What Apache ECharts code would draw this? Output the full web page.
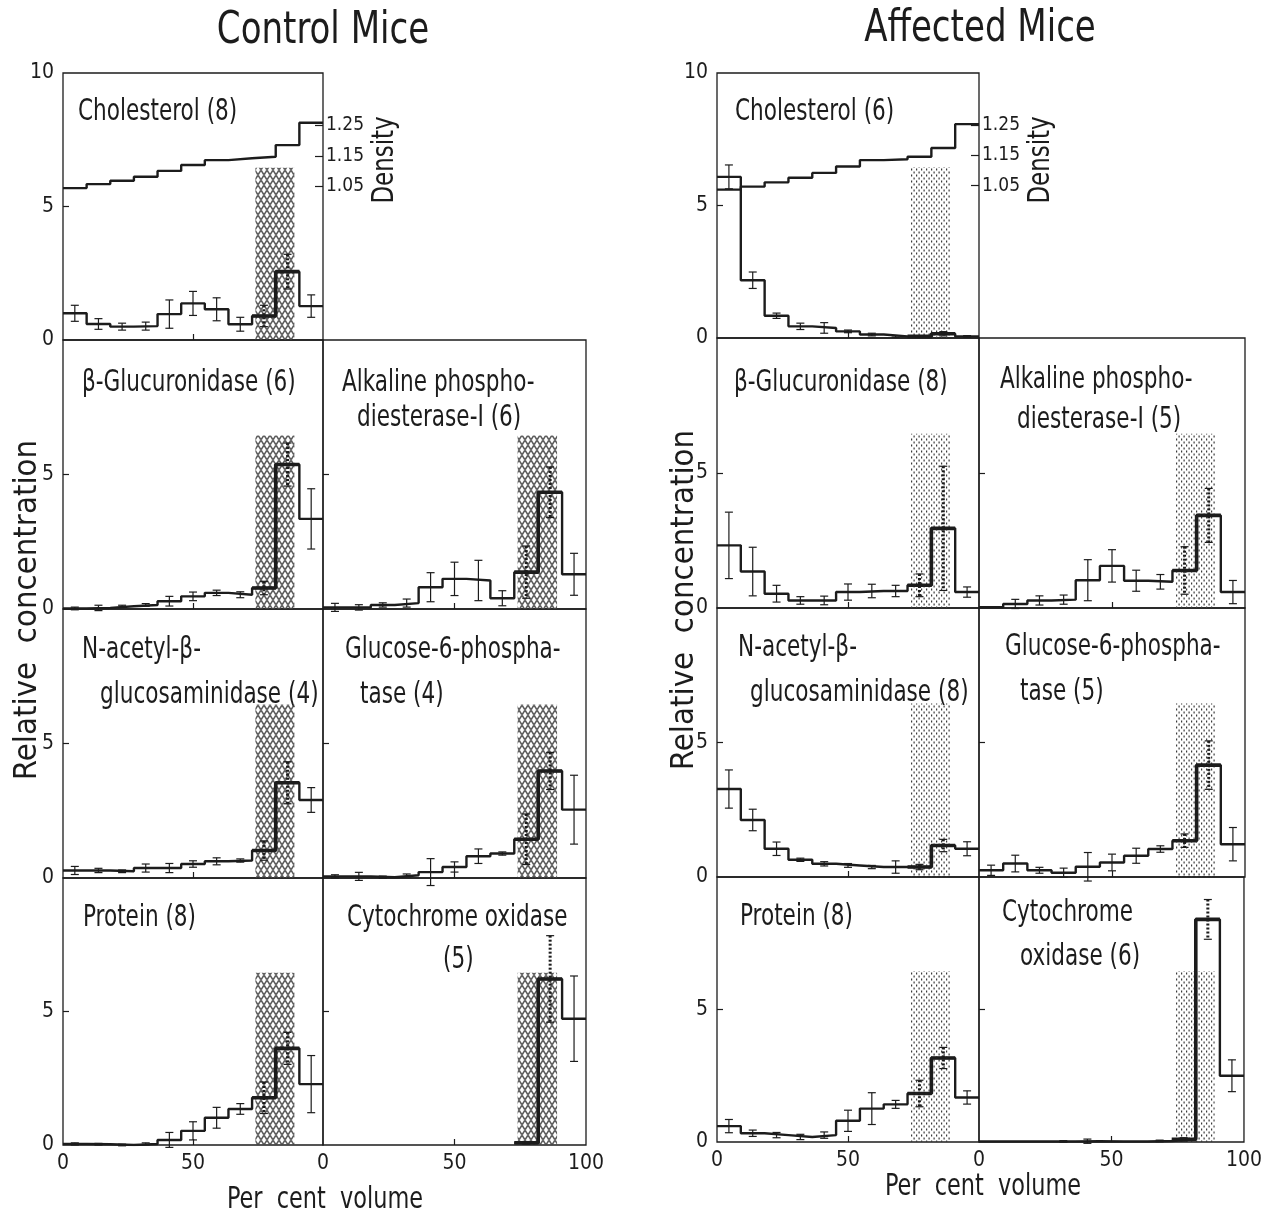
<!DOCTYPE html>
<html>
<head>
<meta charset="utf-8">
<script src="https://cdn.jsdelivr.net/npm/echarts@6/dist/echarts.min.js"></script>
<style>
html, body {margin:0; padding:0; background:#fff;}
#chart {width:1265px; height:1216px;}
</style>
</head>
<body>
<div id="chart"></div>
<script>
// 11 fracoes de volume igual, faixa sombreada = regiao das particulas
var nBins = 11;
var bandX = [74, 89];
var bandTop = 6.45;
var concTicks = [0, 5, 10];
var volumeTicks = [0, 50, 100];
var densityTicks = [1.05, 1.15, 1.25];

// CONTROL
var ctrlChol    = [1.0, 0.6, 0.5, 0.52, 0.97, 1.37, 1.15, 0.59, 0.9, 2.56, 1.27];
var ctrlCholErr = [0.3, 0.2, 0.13, 0.15, 0.53, 0.45, 0.43, 0.26, 0.4, 0.65, 0.42];
var ctrlDensity = [1.045, 1.058, 1.069, 1.082, 1.101, 1.120, 1.136, 1.142, 1.147, 1.185, 1.258];
var ctrlGluc    = [0.02, 0.04, 0.1, 0.15, 0.29, 0.47, 0.6, 0.53, 0.78, 5.37, 3.35];
var ctrlGlucErr = [0.05, 0.1, 0.04, 0.05, 0.18, 0.16, 0.1, 0.11, 0.25, 0.8, 1.12];
var ctrlAlk     = [0.06, 0.06, 0.15, 0.22, 0.81, 1.12, 1.06, 0.4, 1.37, 4.34, 1.29];
var ctrlAlkErr  = [0.15, 0.1, 0.08, 0.15, 0.54, 0.62, 0.75, 0.28, 0.97, 0.94, 0.78];
var ctrlNac     = [0.28, 0.28, 0.25, 0.37, 0.37, 0.52, 0.62, 0.65, 1.02, 3.54, 2.9];
var ctrlNacErr  = [0.15, 0.08, 0.05, 0.15, 0.17, 0.12, 0.13, 0.06, 0.36, 0.78, 0.46];
var ctrlG6p     = [0.06, 0.06, 0.03, 0.1, 0.22, 0.41, 0.81, 0.91, 1.44, 3.98, 2.54];
var ctrlG6pErr  = [0.06, 0.15, 0.04, 0.05, 0.5, 0.19, 0.27, 0.06, 0.94, 0.69, 1.28];
var ctrlProt    = [0.04, 0.03, 0.0, 0.04, 0.19, 0.53, 1.02, 1.35, 1.77, 3.62, 2.28];
var ctrlProtErr = [0.04, 0.03, 0.03, 0.04, 0.28, 0.34, 0.39, 0.2, 0.59, 0.6, 1.07];
var ctrlCyt     = [null, null, null, null, null, null, null, null, 0.08, 6.22, 4.73];
var ctrlCytErr  = [null, null, null, null, null, null, null, null, 0.05, 1.62, 1.6];

// AFFECTED
var affChol    = [6.08, 2.18, 0.84, 0.44, 0.38, 0.25, 0.13, 0.06, 0.06, 0.16, 0.06];
var affCholErr = [0.45, 0.31, 0.1, 0.12, 0.2, 0.05, 0.05, 0.03, 0.03, 0.08, 0.03];
var affDensity = [1.037, 1.047, 1.061, 1.076, 1.092, 1.113, 1.134, 1.137, 1.145, 1.174, 1.252];
var affGluc    = [2.32, 1.35, 0.53, 0.28, 0.28, 0.59, 0.63, 0.63, 0.84, 2.95, 0.59];
var affGlucErr = [1.23, 0.9, 0.31, 0.14, 0.16, 0.3, 0.25, 0.21, 0.42, 2.3, 0.19];
var affAlk     = [0.03, 0.15, 0.28, 0.31, 1.03, 1.56, 1.01, 0.97, 1.39, 3.43, 0.59];
var affAlkErr  = [null, 0.17, 0.17, 0.17, 0.76, 0.6, 0.39, 0.27, 0.88, 1.0, 0.43];
var affNac     = [3.27, 2.12, 1.05, 0.64, 0.49, 0.43, 0.37, 0.37, 0.37, 1.17, 1.05];
var affNacErr  = [0.71, 0.4, 0.25, 0.06, 0.08, 0.07, 0.06, 0.23, 0.1, 0.23, 0.26];
var affG6p     = [0.25, 0.5, 0.25, 0.16, 0.38, 0.54, 0.79, 1.04, 1.35, 4.16, 1.22];
var affG6pErr  = [0.19, 0.31, 0.11, 0.17, 0.53, 0.31, 0.28, 0.12, 0.25, 0.9, 0.62];
var affProt    = [0.6, 0.33, 0.26, 0.19, 0.26, 0.8, 1.26, 1.42, 1.83, 3.17, 1.68];
var affProtErr = [0.25, 0.12, 0.1, 0.1, 0.12, 0.4, 0.6, 0.15, 0.5, 0.4, 0.25];
var affCyt     = [0.02, 0.02, 0.02, 0.02, 0.03, 0.02, 0.02, 0.04, 0.1, 8.4, 2.5];
var affCytErr  = [null, null, null, 0.03, 0.08, null, null, 0.03, 0.06, 0.75, 0.6];

var fontFam = "'Liberation Sans Narrow', 'DejaVu Sans Condensed', sans-serif";
var ink = '#1c1c1c';

// posicoes dos paineis (px)
var layout = {
    c: {cols: [63, 323, 586], rows: [73, 340, 609, 878, 1145]},
    a: {cols: [717, 979, 1245], rows: [73, 338, 608, 877, 1142]}
};

var panels = [
    {g:'c', row:0, col:0, text:['Cholesterol (8)'], pos:[[78,112]], v:ctrlChol, e:ctrlCholErr, d:ctrlDensity},
    {g:'c', row:1, col:0, text:['β-Glucuronidase (6)'], pos:[[82,383]], v:ctrlGluc, e:ctrlGlucErr},
    {g:'c', row:1, col:1, text:['Alkaline phospho-','diesterase-I (6)'], pos:[[342,383],[357,418]], v:ctrlAlk, e:ctrlAlkErr},
    {g:'c', row:2, col:0, text:['N-acetyl-β-','glucosaminidase (4)'], pos:[[82,650],[100,695]], v:ctrlNac, e:ctrlNacErr},
    {g:'c', row:2, col:1, text:['Glucose-6-phospha-','tase (4)'], pos:[[345,650],[360,695]], v:ctrlG6p, e:ctrlG6pErr},
    {g:'c', row:3, col:0, text:['Protein (8)'], pos:[[83,918]], v:ctrlProt, e:ctrlProtErr},
    {g:'c', row:3, col:1, text:['Cytochrome oxidase','(5)'], pos:[[347,918],[443,960]], v:ctrlCyt, e:ctrlCytErr},
    {g:'a', row:0, col:0, text:['Cholesterol (6)'], pos:[[735,112]], v:affChol, e:affCholErr, d:affDensity},
    {g:'a', row:1, col:0, text:['β-Glucuronidase (8)'], pos:[[734,383]], v:affGluc, e:affGlucErr},
    {g:'a', row:1, col:1, text:['Alkaline phospho-','diesterase-I (5)'], pos:[[1000,380],[1017,420]], v:affAlk, e:affAlkErr},
    {g:'a', row:2, col:0, text:['N-acetyl-β-','glucosaminidase (8)'], pos:[[738,648],[750,693]], v:affNac, e:affNacErr},
    {g:'a', row:2, col:1, text:['Glucose-6-phospha-','tase (5)'], pos:[[1005,647],[1020,692]], v:affG6p, e:affG6pErr},
    {g:'a', row:3, col:0, text:['Protein (8)'], pos:[[740,917]], v:affProt, e:affProtErr},
    {g:'a', row:3, col:1, text:['Cytochrome','oxidase (6)'], pos:[[1002,913],[1020,957]], v:affCyt, e:affCytErr}
];

// texturas da faixa
function meshPattern() {
    var c = document.createElement('canvas');
    c.width = 6; c.height = 10;
    var g = c.getContext('2d');
    g.strokeStyle = '#444';
    g.lineWidth = 0.9;
    [[3,5],[0,0],[6,0],[0,10],[6,10]].forEach(function(p){
        g.beginPath();
        g.ellipse(p[0], p[1], 2.4, 4.0, 0, 0, Math.PI * 2);
        g.stroke();
    });
    return c;
}
function dotPattern() {
    var c = document.createElement('canvas');
    c.width = 5; c.height = 6;
    var g = c.getContext('2d');
    g.fillStyle = '#3a3a3a';
    g.fillRect(1, 0.5, 1.2, 2);
    g.fillRect(3.5, 3.5, 1.2, 2);
    return c;
}
var patterns = {c: meshPattern(), a: dotPattern()};

function edge(i) { return i * 100 / nBins; }
function center(i) { return (i + 0.5) * 100 / nBins; }
function inBand(i) { return center(i) >= bandX[0] && center(i) <= bandX[1]; }

function stepData(vals) {
    var pts = [];
    for (var i = 0; i < nBins; i++) pts.push([edge(i), vals[i] == null ? '-' : vals[i]]);
    pts.push([100, vals[nBins - 1]]);
    return pts;
}
function bandStep(vals) {
    var pts = [], last = -1;
    for (var i = 0; i < nBins; i++) {
        if (inBand(i) && vals[i] != null) { pts.push([edge(i), vals[i]]); last = i; }
    }
    if (last >= 0) pts.push([edge(last + 1), vals[last]]);
    return pts;
}
function errData(vals, errs) {
    var out = [];
    for (var i = 0; i < nBins; i++) {
        if (vals[i] == null || errs[i] == null) continue;
        out.push([center(i), vals[i], errs[i], inBand(i) ? 1 : 0]);
    }
    return out;
}

function errRender(params, api) {
    var x = api.value(0), v = api.value(1), e = api.value(2), dotted = api.value(3);
    var hi = api.coord([x, v + e]);
    var lo = api.coord([x, v - e]);
    var cap = 4;
    var thin = {stroke: ink, lineWidth: 1.2};
    return {
        type: 'group',
        children: [
            {type:'line', shape:{x1:hi[0], y1:hi[1], x2:lo[0], y2:lo[1]},
             style: dotted ? {stroke: ink, lineWidth: 3, lineDash: [2, 2]} : thin},
            {type:'line', shape:{x1:hi[0]-cap, y1:hi[1], x2:hi[0]+cap, y2:hi[1]}, style: thin},
            {type:'line', shape:{x1:lo[0]-cap, y1:lo[1], x2:lo[0]+cap, y2:lo[1]}, style: thin}
        ]
    };
}

// texto com largura comprimida (fonte condensada)
function label(t, x, y, size, sx, align, rot) {
    return {type: 'text', x: x, y: y, rotation: rot || 0, scaleX: sx,
        style: {text: t, font: size + 'px ' + fontFam, fill: ink, textAlign: align, textVerticalAlign: 'middle'}};
}

var grids = [], xAxes = [], yAxes = [], series = [], graphics = [];

panels.forEach(function(p, k){
    var L = layout[p.g];
    var left = L.cols[p.col], right = L.cols[p.col + 1];
    var top = L.rows[p.row], bottom = L.rows[p.row + 1];
    var isBottom = p.row === 3;

    grids.push({left: left, top: top, width: right - left, height: bottom - top,
        show: true, borderColor: ink, borderWidth: 1.3, backgroundColor: 'transparent'});

    xAxes.push({
        type: 'value', gridIndex: k, min: 0, max: 100,
        axisLine: {show: false}, splitLine: {show: false},
        axisTick: {customValues: [volumeTicks[1]], inside: true, length: 6, lineStyle: {color: ink, width: 1.2}},
        axisLabel: {show: isBottom, customValues: p.col === 0 ? volumeTicks.slice(0, 2) : volumeTicks,
            margin: 8, color: ink, fontSize: 21, fontFamily: fontFam}
    });

    var yi = yAxes.length;
    yAxes.push({
        type: 'value', gridIndex: k, min: 0, max: 10,
        axisLine: {show: false}, splitLine: {show: false},
        axisTick: {customValues: [concTicks[1]], inside: true, length: 6, lineStyle: {color: ink, width: 1.2}},
        axisLabel: {show: p.col === 0, customValues: p.row === 0 ? concTicks : concTicks.slice(0, 2),
            margin: 9, color: ink, fontSize: 21, fontFamily: fontFam}
    });

    // faixa sombreada
    series.push({
        type: 'line', xAxisIndex: k, yAxisIndex: yi, data: [], z: 1, silent: true,
        markArea: {silent: true, itemStyle: {color: {image: patterns[p.g], repeat: 'repeat'}, borderWidth: 0},
            data: [[{coord: [bandX[0], 0]}, {coord: [bandX[1], bandTop]}]]}
    });
    // histograma
    series.push({
        type: 'line', step: 'end', xAxisIndex: k, yAxisIndex: yi, z: 3, silent: true,
        symbol: 'none', data: stepData(p.v), lineStyle: {color: ink, width: 2.4}
    });
    series.push({
        type: 'line', step: 'end', xAxisIndex: k, yAxisIndex: yi, z: 3, silent: true,
        symbol: 'none', data: bandStep(p.v), lineStyle: {color: ink, width: 3.6}
    });
    // barras de erro
    series.push({
        type: 'custom', xAxisIndex: k, yAxisIndex: yi, z: 4, silent: true, clip: false,
        renderItem: errRender, data: errData(p.v, p.e)
    });

    // densidade
    if (p.d) {
        var di = yAxes.length;
        yAxes.push({
            type: 'value', gridIndex: k, position: 'right', min: 0.55, max: 1.42,
            axisLine: {show: false}, splitLine: {show: false},
            axisTick: {customValues: densityTicks, inside: true, length: 8, lineStyle: {color: ink, width: 1.2}},
            axisLabel: {customValues: densityTicks, margin: 3, color: ink, fontSize: 19, fontFamily: fontFam,
                formatter: function(v){ return v.toFixed(2); }}
        });
        series.push({
            type: 'line', step: 'end', xAxisIndex: k, yAxisIndex: di, z: 3, silent: true,
            symbol: 'none', data: stepData(p.d), lineStyle: {color: ink, width: 2.4}
        });
        graphics.push(label('Density', right + 62, 160, 30, 0.85, 'center', Math.PI / 2));
    }

    p.text.forEach(function(t, j){
        graphics.push(label(t, p.pos[j][0], p.pos[j][1], 30, 0.8, 'left'));
    });
});

// titulos e nomes dos eixos
graphics.push(label('Control Mice', 323, 32, 44, 0.86, 'center'));
graphics.push(label('Affected Mice', 980, 30, 44, 0.86, 'center'));
graphics.push(label('Relative  concentration', 28, 610, 32, 1.02, 'center', Math.PI / 2));
graphics.push(label('Relative  concentration', 685, 600, 32, 1.02, 'center', Math.PI / 2));
graphics.push(label('Per  cent  volume', 325, 1200, 30, 0.83, 'center'));
graphics.push(label('Per  cent  volume', 983, 1187, 30, 0.83, 'center'));

var myChart = echarts.init(document.getElementById('chart'));
myChart.setOption({
    animation: false,
    backgroundColor: '#fff',
    grid: grids,
    xAxis: xAxes,
    yAxis: yAxes,
    series: series,
    graphic: graphics
});
</script>
</body>
</html>
